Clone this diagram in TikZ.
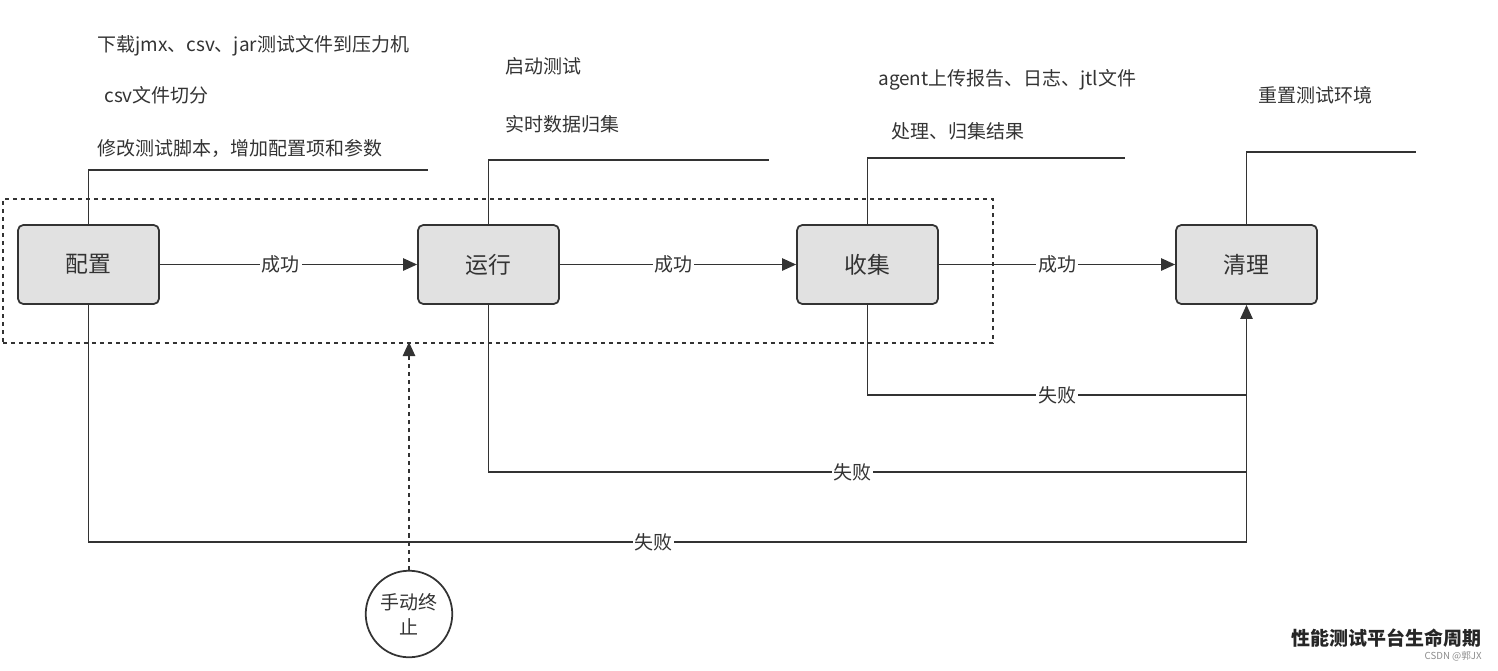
\documentclass[tikz,border=0pt]{standalone}
\usepackage{fontspec}
\setmainfont{Noto Sans CJK SC}
\usepackage{xcolor}
\usetikzlibrary{arrows.meta}

\definecolor{linegray}{HTML}{333333}
\definecolor{boxgray}{HTML}{E1E1E1}

\tikzset{
  stage/.style={draw=linegray, fill=boxgray, rounded corners=3pt, line width=1pt,
    minimum width=2.82cm, minimum height=1.58cm, font=\fontsize{13}{15}\selectfont, text=linegray},
  note/.style={anchor=west, font=\fontsize{10.8}{12}\selectfont, text=linegray, inner sep=0pt},
  flow/.style={draw=linegray, line width=1pt, -{Triangle[length=8pt,width=7pt]}},
  lead/.style={draw=linegray, line width=1pt},
  tag/.style={fill=white, inner sep=1pt, font=\fontsize{10.8}{12}\selectfont, text=linegray},
  dots/.style={draw=linegray, line width=1pt, dash pattern=on 2.3pt off 2.3pt},
}

\begin{document}
\begin{tikzpicture}[x=0.02cm, y=-0.02cm]
    \useasboundingbox (0,0) rectangle (1498,670);

    % stages
    \node[stage] (cfg) at (88.5, 264.5) {配置};
    \node[stage] (run) at (488.5, 264.5) {运行};
    \node[stage] (col) at (867.5, 264.5) {收集};
    \node[stage] (clean) at (1246.5, 264.5) {清理};

    % dotted frame round the first three stages
    \node[dots, minimum width=19.8cm, minimum height=2.88cm, anchor=north west] (frame) at (2, 198) {};

    % notes above the stages
    \node[note] (n1) at (97, 46) {下载jmx、csv、jar测试文件到压力机};
    \node[note] (n2) at (104, 95) {csv文件切分};
    \node[note] (n3) at (97, 148) {修改测试脚本，增加配置项和参数};
    \node[note] (n4) at (505, 66) {启动测试};
    \node[note] (n5) at (505, 124) {实时数据归集};
    \node[note] (n6) at (878, 80) {agent上传报告、日志、jtl文件};
    \node[note] (n7) at (891, 131) {处理、归集结果};
    \node[note] (n8) at (1258, 95) {重置测试环境};

    \coordinate (c1) at (428, 170);
    \coordinate (c2) at (769, 160);
    \coordinate (c3) at (1125, 158);
    \coordinate (c4) at (1416, 152);
    \draw[lead] (cfg.north) |- (c1);
    \draw[lead] (run.north) |- (c2);
    \draw[lead] (col.north) |- (c3);
    \draw[lead] (clean.north) |- (c4);

    % success path
    \draw[flow] (cfg) -- node[tag, pos=0.47] {成功} (run);
    \draw[flow] (run) -- node[tag, pos=0.48] {成功} (col);
    \draw[flow] (col) -- node[tag] {成功} (clean);

    % failure paths
    \coordinate (f1) at (1246.5, 395);
    \coordinate (f2) at (1246.5, 472);
    \coordinate (f3) at (1246.5, 542);
    \draw[lead] (col.south) |- node[tag, pos=0.75] {失败} (f1);
    \draw[lead] (run.south) |- node[tag, pos=0.74] {失败} (f2);
    \draw[lead] (cfg.south) |- node[tag, pos=0.744] {失败} (f3);
    \draw[flow] (f3) -- (clean.south);

    % manual stop
    \node[draw=linegray, line width=1pt, circle, minimum size=1.72cm, align=center,
      font=\fontsize{10.8}{14}\selectfont, text=linegray] (stop) at (409, 614) {手动终\\止};
    \coordinate (hit) at (409, 342);
    \draw[dots, -{Triangle[length=8pt,width=7pt]}] (stop.north) -- (hit);

    % caption
    \node[anchor=east, inner sep=0pt, font=\fontsize{10.8}{12}\selectfont\bfseries, text=black!85] (title) at (1482, 638) {性能测试平台生命周期};
    \node[anchor=east, font=\fontsize{5.5}{6}\selectfont, text=black!45, inner sep=0pt] (mark) at (1482, 656) {CSDN @郭JX};
\end{tikzpicture}
\end{document}
